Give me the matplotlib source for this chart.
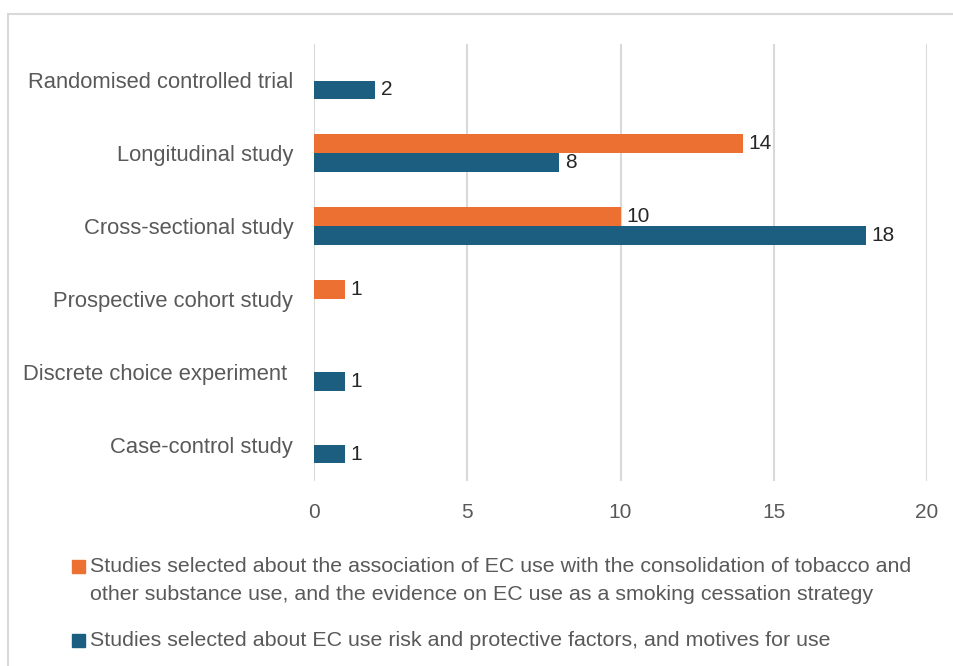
import matplotlib.pyplot as plt
import numpy as np
from matplotlib.patches import Rectangle

# study designs, top to bottom
categories = [
    "Randomised controlled trial",
    "Longitudinal study",
    "Cross-sectional study",
    "Prospective cohort study",
    "Discrete choice experiment ",
    "Case-control study",
]
# None = no studies of that design in the group
consolidation = [None, 14, 10, 1, None, None]
risk_factors = [2, 8, 18, None, 1, 1]

legend_lines = [
    ["Studies selected about the association of EC use with the consolidation of tobacco and",
     "other substance use, and the evidence on EC use as a smoking cessation strategy"],
    ["Studies selected about EC use risk and protective factors, and motives for use"],
]
x_ticks = [0, 5, 10, 15, 20]

orange = "#EC7031"
blue = "#1B5E80"
grey_text = "#595959"
grid_col = "#D9D9D9"
font = "Liberation Sans"

fig = plt.figure(figsize=(9.54, 6.66), dpi=100)
ax = fig.add_axes([314 / 954, 1 - 481 / 666, (927 - 314) / 954, (481 - 44) / 666])

y = np.arange(len(categories))
h = 0.255
off = 0.13


def draw(vals, shift, color):
    idx = [i for i, v in enumerate(vals) if v is not None]
    v = [vals[i] for i in idx]
    bars = ax.barh(y[idx] + shift, v, height=h, color=color, zorder=3)
    ax.bar_label(bars, labels=[str(n) for n in v], padding=4,
                 fontsize=15, color="#262626", family=font)


draw(consolidation, -off, orange)
draw(risk_factors, off, blue)

ax.set_ylim(len(categories) - 0.5, -0.5)
ax.set_xlim(0, 20)
ax.set_xticks(x_ticks)
ax.set_yticks(y)
ax.set_yticklabels(categories, fontsize=15.8, color=grey_text, family=font)
ax.tick_params(axis="y", length=0, pad=15)
ax.tick_params(axis="x", length=0, pad=16, labelsize=15, labelcolor=grey_text)
for lbl in ax.get_xticklabels():
    lbl.set_family(font)
ax.grid(axis="x", color=grid_col, linewidth=1.5, zorder=0)
for s in ax.spines.values():
    s.set_visible(False)

# legend drawn by hand so the key sits on the first text line
line_gap = 29
for lines, color, ytop in [(legend_lines[0], orange, 566), (legend_lines[1], blue, 640)]:
    fig.patches.append(Rectangle((72 / 954, 1 - (ytop + 7) / 666), 13 / 954, 13 / 666,
                                 transform=fig.transFigure, color=color))
    for k, line in enumerate(lines):
        fig.text(90 / 954, 1 - (ytop + k * line_gap) / 666, line, fontsize=15.4,
                 color=grey_text, family=font, va="center", ha="left")

# outer chart frame
fig.patches.append(Rectangle((8 / 954, -0.05), 1.1, 1.05 - 14 / 666,
                             transform=fig.transFigure, fill=False,
                             edgecolor=grid_col, linewidth=1.5))

fig.savefig("out.png", dpi=100)
